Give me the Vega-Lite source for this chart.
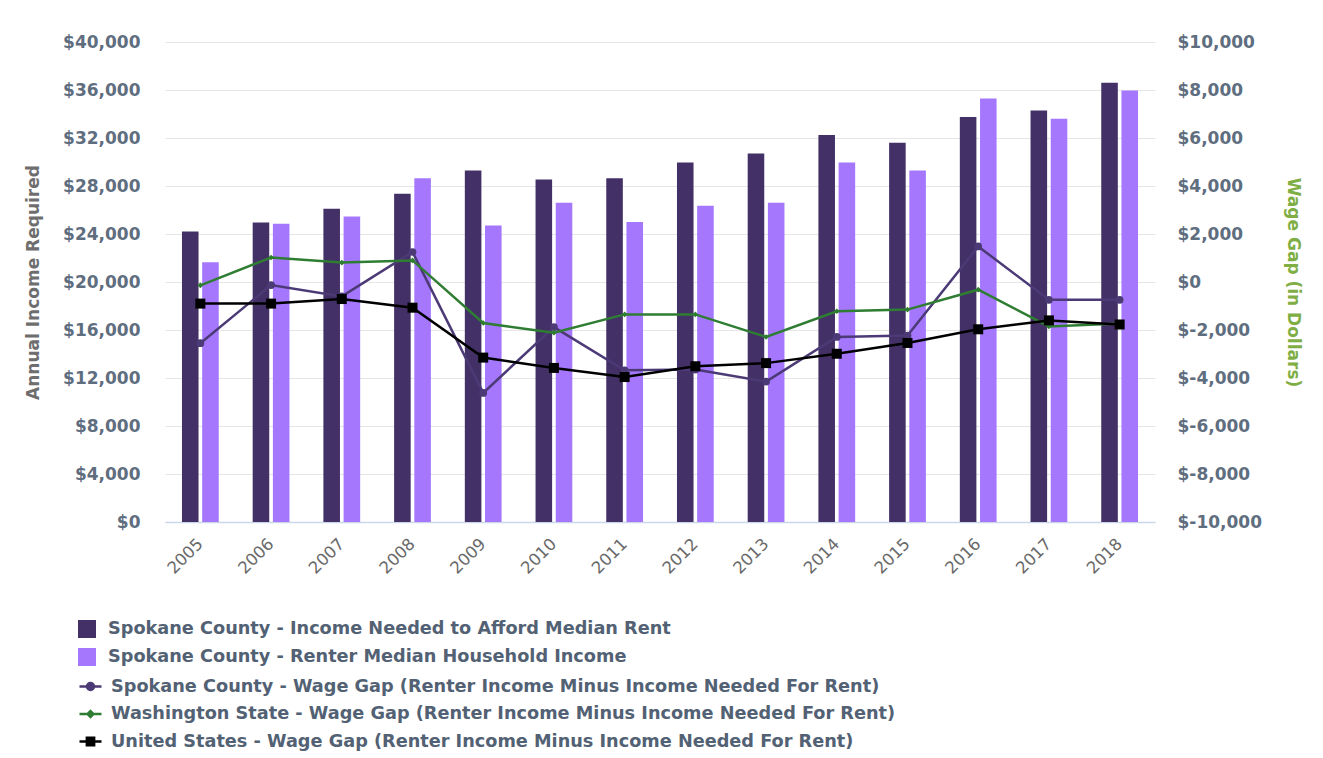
{
  "$schema": "https://vega.github.io/schema/vega-lite/v6.json",
  "width": 990,
  "height": 480,
  "autosize": {"type": "none"},
  "padding": {"left": 165, "top": 42, "right": 168, "bottom": 236},
  "background": "#ffffff",
  "config": {
    "view": {"stroke": null},
    "font": "DejaVu Sans"
  },
  "datasets": {
    "bars": [
      {"year": "2005", "series": "Spokane County - Income Needed to Afford Median Rent", "value": 24200},
      {"year": "2005", "series": "Spokane County - Renter Median Household Income", "value": 21650},
      {"year": "2006", "series": "Spokane County - Income Needed to Afford Median Rent", "value": 24950},
      {"year": "2006", "series": "Spokane County - Renter Median Household Income", "value": 24850},
      {"year": "2007", "series": "Spokane County - Income Needed to Afford Median Rent", "value": 26100},
      {"year": "2007", "series": "Spokane County - Renter Median Household Income", "value": 25450},
      {"year": "2008", "series": "Spokane County - Income Needed to Afford Median Rent", "value": 27350},
      {"year": "2008", "series": "Spokane County - Renter Median Household Income", "value": 28650},
      {"year": "2009", "series": "Spokane County - Income Needed to Afford Median Rent", "value": 29300},
      {"year": "2009", "series": "Spokane County - Renter Median Household Income", "value": 24700},
      {"year": "2010", "series": "Spokane County - Income Needed to Afford Median Rent", "value": 28550},
      {"year": "2010", "series": "Spokane County - Renter Median Household Income", "value": 26600},
      {"year": "2011", "series": "Spokane County - Income Needed to Afford Median Rent", "value": 28650},
      {"year": "2011", "series": "Spokane County - Renter Median Household Income", "value": 25000},
      {"year": "2012", "series": "Spokane County - Income Needed to Afford Median Rent", "value": 29950},
      {"year": "2012", "series": "Spokane County - Renter Median Household Income", "value": 26350},
      {"year": "2013", "series": "Spokane County - Income Needed to Afford Median Rent", "value": 30700},
      {"year": "2013", "series": "Spokane County - Renter Median Household Income", "value": 26600},
      {"year": "2014", "series": "Spokane County - Income Needed to Afford Median Rent", "value": 32250},
      {"year": "2014", "series": "Spokane County - Renter Median Household Income", "value": 29950},
      {"year": "2015", "series": "Spokane County - Income Needed to Afford Median Rent", "value": 31600},
      {"year": "2015", "series": "Spokane County - Renter Median Household Income", "value": 29300},
      {"year": "2016", "series": "Spokane County - Income Needed to Afford Median Rent", "value": 33750},
      {"year": "2016", "series": "Spokane County - Renter Median Household Income", "value": 35300},
      {"year": "2017", "series": "Spokane County - Income Needed to Afford Median Rent", "value": 34300},
      {"year": "2017", "series": "Spokane County - Renter Median Household Income", "value": 33600},
      {"year": "2018", "series": "Spokane County - Income Needed to Afford Median Rent", "value": 36600},
      {"year": "2018", "series": "Spokane County - Renter Median Household Income", "value": 35950}
    ],
    "gaps": [
      {"year": "2005", "series": "Spokane County - Wage Gap (Renter Income Minus Income Needed For Rent)", "gap": -2550},
      {"year": "2006", "series": "Spokane County - Wage Gap (Renter Income Minus Income Needed For Rent)", "gap": -130},
      {"year": "2007", "series": "Spokane County - Wage Gap (Renter Income Minus Income Needed For Rent)", "gap": -600},
      {"year": "2008", "series": "Spokane County - Wage Gap (Renter Income Minus Income Needed For Rent)", "gap": 1250},
      {"year": "2009", "series": "Spokane County - Wage Gap (Renter Income Minus Income Needed For Rent)", "gap": -4620},
      {"year": "2010", "series": "Spokane County - Wage Gap (Renter Income Minus Income Needed For Rent)", "gap": -1880},
      {"year": "2011", "series": "Spokane County - Wage Gap (Renter Income Minus Income Needed For Rent)", "gap": -3680},
      {"year": "2012", "series": "Spokane County - Wage Gap (Renter Income Minus Income Needed For Rent)", "gap": -3650},
      {"year": "2013", "series": "Spokane County - Wage Gap (Renter Income Minus Income Needed For Rent)", "gap": -4150},
      {"year": "2014", "series": "Spokane County - Wage Gap (Renter Income Minus Income Needed For Rent)", "gap": -2290},
      {"year": "2015", "series": "Spokane County - Wage Gap (Renter Income Minus Income Needed For Rent)", "gap": -2230},
      {"year": "2016", "series": "Spokane County - Wage Gap (Renter Income Minus Income Needed For Rent)", "gap": 1480},
      {"year": "2017", "series": "Spokane County - Wage Gap (Renter Income Minus Income Needed For Rent)", "gap": -740},
      {"year": "2018", "series": "Spokane County - Wage Gap (Renter Income Minus Income Needed For Rent)", "gap": -740},
      {"year": "2005", "series": "Washington State - Wage Gap (Renter Income Minus Income Needed For Rent)", "gap": -140},
      {"year": "2006", "series": "Washington State - Wage Gap (Renter Income Minus Income Needed For Rent)", "gap": 1020},
      {"year": "2007", "series": "Washington State - Wage Gap (Renter Income Minus Income Needed For Rent)", "gap": 810},
      {"year": "2008", "series": "Washington State - Wage Gap (Renter Income Minus Income Needed For Rent)", "gap": 900},
      {"year": "2009", "series": "Washington State - Wage Gap (Renter Income Minus Income Needed For Rent)", "gap": -1710},
      {"year": "2010", "series": "Washington State - Wage Gap (Renter Income Minus Income Needed For Rent)", "gap": -2110},
      {"year": "2011", "series": "Washington State - Wage Gap (Renter Income Minus Income Needed For Rent)", "gap": -1350},
      {"year": "2012", "series": "Washington State - Wage Gap (Renter Income Minus Income Needed For Rent)", "gap": -1350},
      {"year": "2013", "series": "Washington State - Wage Gap (Renter Income Minus Income Needed For Rent)", "gap": -2290},
      {"year": "2014", "series": "Washington State - Wage Gap (Renter Income Minus Income Needed For Rent)", "gap": -1220},
      {"year": "2015", "series": "Washington State - Wage Gap (Renter Income Minus Income Needed For Rent)", "gap": -1150},
      {"year": "2016", "series": "Washington State - Wage Gap (Renter Income Minus Income Needed For Rent)", "gap": -320},
      {"year": "2017", "series": "Washington State - Wage Gap (Renter Income Minus Income Needed For Rent)", "gap": -1850},
      {"year": "2018", "series": "Washington State - Wage Gap (Renter Income Minus Income Needed For Rent)", "gap": -1730},
      {"year": "2005", "series": "United States - Wage Gap (Renter Income Minus Income Needed For Rent)", "gap": -900},
      {"year": "2006", "series": "United States - Wage Gap (Renter Income Minus Income Needed For Rent)", "gap": -900},
      {"year": "2007", "series": "United States - Wage Gap (Renter Income Minus Income Needed For Rent)", "gap": -710},
      {"year": "2008", "series": "United States - Wage Gap (Renter Income Minus Income Needed For Rent)", "gap": -1070},
      {"year": "2009", "series": "United States - Wage Gap (Renter Income Minus Income Needed For Rent)", "gap": -3150},
      {"year": "2010", "series": "United States - Wage Gap (Renter Income Minus Income Needed For Rent)", "gap": -3580},
      {"year": "2011", "series": "United States - Wage Gap (Renter Income Minus Income Needed For Rent)", "gap": -3960},
      {"year": "2012", "series": "United States - Wage Gap (Renter Income Minus Income Needed For Rent)", "gap": -3510},
      {"year": "2013", "series": "United States - Wage Gap (Renter Income Minus Income Needed For Rent)", "gap": -3380},
      {"year": "2014", "series": "United States - Wage Gap (Renter Income Minus Income Needed For Rent)", "gap": -2990},
      {"year": "2015", "series": "United States - Wage Gap (Renter Income Minus Income Needed For Rent)", "gap": -2540},
      {"year": "2016", "series": "United States - Wage Gap (Renter Income Minus Income Needed For Rent)", "gap": -1970},
      {"year": "2017", "series": "United States - Wage Gap (Renter Income Minus Income Needed For Rent)", "gap": -1600},
      {"year": "2018", "series": "United States - Wage Gap (Renter Income Minus Income Needed For Rent)", "gap": -1770}
    ]
  },
  "layer": [
    {
      "data": {"name": "bars"},
      "mark": {"type": "bar"},
      "encoding": {
        "x": {
          "field": "year", "type": "ordinal",
          "scale": {"paddingInner": 0, "paddingOuter": 0},
          "axis": {
            "title": null, "labelAngle": -45, "labelAlign": "right", "labelBaseline": "middle",
            "labelPadding": 19, "ticks": false, "domainColor": "#ccd6eb", "domainWidth": 1.5,
            "labelFont": "DejaVu Sans", "labelFontSize": 16.5, "labelColor": "#6a6a6a", "grid": false
          }
        },
        "xOffset": {
          "field": "series", "type": "nominal",
          "scale": {
            "domain": ["Spokane County - Income Needed to Afford Median Rent", "Spokane County - Renter Median Household Income"],
            "paddingInner": 0.18, "paddingOuter": 0.84
          }
        },
        "y": {
          "field": "value", "type": "quantitative",
          "scale": {"domain": [0, 40000], "nice": false, "zero": true},
          "axis": {
            "orient": "left", "title": "Annual Income Required",
            "values": [0, 4000, 8000, 12000, 16000, 20000, 24000, 28000, 32000, 36000, 40000],
            "labelExpr": "'$' + format(datum.value, ',')",
            "grid": true, "gridColor": "#e6e6e6", "gridWidth": 1,
            "domain": false, "ticks": false, "labelPadding": 25,
            "labelFont": "DejaVu Sans", "labelFontSize": 17, "labelFontWeight": "bold", "labelColor": "#5f6e7f",
            "titleFont": "DejaVu Sans", "titleFontSize": 17, "titleFontWeight": "bold", "titleColor": "#6e6e6e",
            "titlePadding": 20
          }
        },
        "fill": {
          "field": "series", "type": "nominal",
          "scale": {
            "domain": ["Spokane County - Income Needed to Afford Median Rent", "Spokane County - Renter Median Household Income"],
            "range": ["#433066", "#a477fc"]
          },
          "legend": {
            "title": null, "orient": "none", "legendX": -87, "legendY": 578, "direction": "vertical",
            "symbolType": "square", "symbolSize": 324, "symbolStrokeWidth": 0,
            "labelFont": "DejaVu Sans", "labelFontSize": 17.7, "labelFontWeight": "bold", "labelColor": "#526173",
            "labelLimit": 1000, "labelOffset": 12, "rowPadding": 10, "padding": 0
          }
        }
      }
    },
    {
      "data": {"name": "gaps"},
      "encoding": {
        "x": {"field": "year", "type": "ordinal"},
        "y": {
          "field": "gap", "type": "quantitative",
          "scale": {"domain": [-10000, 10000], "nice": false, "zero": false},
          "axis": {
            "orient": "right", "title": "Wage Gap (in Dollars)",
            "values": [-10000, -8000, -6000, -4000, -2000, 0, 2000, 4000, 6000, 8000, 10000],
            "labelExpr": "'$' + replace(format(datum.value, ','), '\u2212', '-')",
            "grid": false, "domain": false, "ticks": false, "labelPadding": 22,
            "labelFont": "DejaVu Sans", "labelFontSize": 17, "labelFontWeight": "bold", "labelColor": "#5f6e7f",
            "titleFont": "DejaVu Sans", "titleFontSize": 17, "titleFontWeight": "bold", "titleColor": "#7fae45",
            "titlePadding": 22
          }
        }
      },
      "layer": [
        {
          "mark": {"type": "line", "strokeWidth": 2.5},
          "encoding": {
            "stroke": {
              "field": "series", "type": "nominal",
              "scale": {
                "domain": [
                  "Spokane County - Wage Gap (Renter Income Minus Income Needed For Rent)",
                  "Washington State - Wage Gap (Renter Income Minus Income Needed For Rent)",
                  "United States - Wage Gap (Renter Income Minus Income Needed For Rent)"
                ],
                "range": ["#4b3a76", "#2e7d32", "#000000"]
              },
              "legend": {
                "title": null, "orient": "none", "legendX": -87, "legendY": 632, "direction": "vertical",
                "symbolSize": 484, "symbolStrokeWidth": 2.5,
                "labelFont": "DejaVu Sans", "labelFontSize": 17.7, "labelFontWeight": "bold", "labelColor": "#526173",
                "labelLimit": 1000, "labelOffset": 8, "rowPadding": 5.5, "padding": 0,
                "encode": {
                  "symbols": {
                    "update": {
                      "shape": {"signal": "datum.value === 'Spokane County - Wage Gap (Renter Income Minus Income Needed For Rent)' ? 'M-1,0L1,0M0.32,0A0.32,0.32,0,1,1,-0.32,0A0.32,0.32,0,1,1,0.32,0Z' : datum.value === 'Washington State - Wage Gap (Renter Income Minus Income Needed For Rent)' ? 'M-1,0L1,0M0,-0.27L0.27,0L0,0.27L-0.27,0Z' : 'M-1,0L1,0M-0.33,-0.33L0.33,-0.33L0.33,0.33L-0.33,0.33Z'"},
                      "fill": {"signal": "datum.value === 'Spokane County - Wage Gap (Renter Income Minus Income Needed For Rent)' ? '#4b3a76' : datum.value === 'Washington State - Wage Gap (Renter Income Minus Income Needed For Rent)' ? '#2e7d32' : '#000000'"},
                      "strokeWidth": {"value": 2.5}
                    }
                  }
                }
              }
            }
          }
        },
        {
          "transform": [{"filter": {"field": "series", "equal": "Spokane County - Wage Gap (Renter Income Minus Income Needed For Rent)"}}],
          "mark": {"type": "point", "filled": true, "opacity": 1, "shape": "circle", "size": 60, "color": "#4b3a76"}
        },
        {
          "transform": [{"filter": {"field": "series", "equal": "Washington State - Wage Gap (Renter Income Minus Income Needed For Rent)"}}],
          "mark": {"type": "point", "filled": true, "opacity": 1, "shape": "diamond", "size": 32, "color": "#2e7d32"}
        },
        {
          "transform": [{"filter": {"field": "series", "equal": "United States - Wage Gap (Renter Income Minus Income Needed For Rent)"}}],
          "mark": {"type": "point", "filled": true, "opacity": 1, "shape": "square", "size": 100, "color": "#000000"}
        }
      ]
    }
  ],
  "resolve": {"scale": {"y": "independent"}}
}
